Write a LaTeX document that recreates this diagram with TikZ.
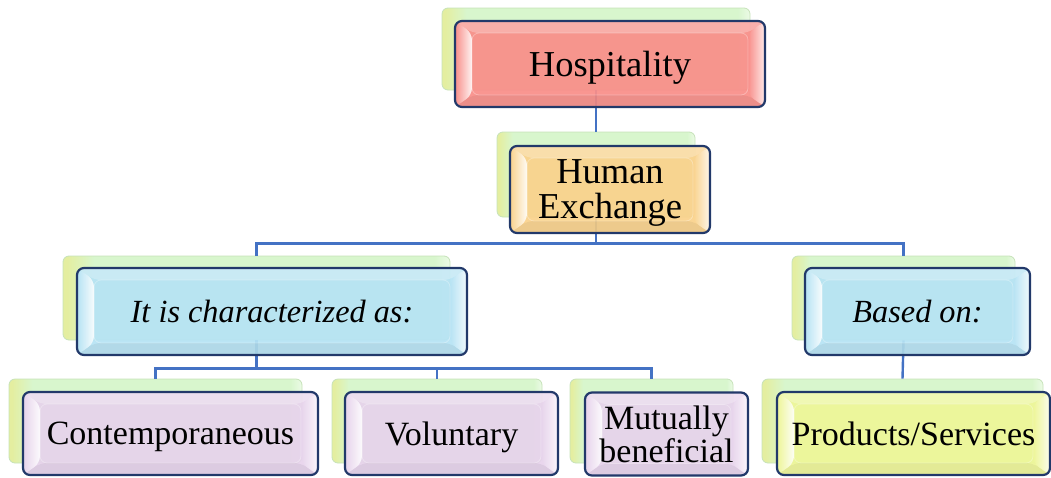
\documentclass[tikz,border=0pt]{standalone}
\usepackage{fontspec}
\setmainfont{Liberation Serif}
\usetikzlibrary{calc}

\definecolor{edgeblue}{HTML}{22396A}
\definecolor{linkblue}{HTML}{4472C4}
\definecolor{backgreen}{HTML}{D8F6CD}
\definecolor{backyellow}{HTML}{E4EEA0}
\definecolor{backedge}{HTML}{C6E2B9}
\definecolor{hospred}{HTML}{F98E89}
\definecolor{exorange}{HTML}{FAD28C}
\definecolor{skyblue}{HTML}{B6E3F4}
\definecolor{lilac}{HTML}{E7D3EC}
\definecolor{lime}{HTML}{EEF698}

% green card shading: yellowish at the left edge, green elsewhere
\pgfdeclarehorizontalshading{backshade}{100bp}{color(0bp)=(backyellow); color(25.5bp)=(backyellow); color(29bp)=(backgreen); color(73bp)=(backgreen); color(75bp)=(white!50!backgreen); color(100bp)=(white!50!backgreen)}

% bevelled facets drawn inside a front box
\newcommand\bevelfacets[1]{%
  \path (path picture bounding box.north west) coordinate (o1)
        (path picture bounding box.north east) coordinate (o2)
        (path picture bounding box.south east) coordinate (o3)
        (path picture bounding box.south west) coordinate (o4);
  \coordinate (i1) at ($(o1)+(17,12)$);
  \coordinate (i2) at ($(o2)+(-17,12)$);
  \coordinate (i3) at ($(o3)+(-17,-12)$);
  \coordinate (i4) at ($(o4)+(17,-12)$);
  \fill[white, opacity=.25] (o1) -- (o2) -- (i2) -- (i1) -- cycle;
  \fill[black, opacity=.05] (o4) -- (o3) -- (i3) -- (i4) -- cycle;
  \shade[left color=#1, right color=white, opacity=.9] (o1) -- (i1) -- (i4) -- (o4) -- cycle;
  \shade[left color=#1, right color=white, opacity=.8] (i2) -- (o2) -- (o3) -- (i3) -- cycle;
  \draw[white, opacity=.3, line width=.8pt] (i1) -- (i2) -- (i3) -- (i4) -- cycle;
}

\tikzset{
  backbox/.style={rectangle, rounded corners=6pt, draw=backedge, line width=.8pt,
    shading=backshade},
  frontbox/.style={rectangle, rounded corners=7pt, draw=edgeblue, line width=2.2pt,
    fill=#1, fill opacity=.93, text opacity=1, inner sep=0pt, align=center,
    text depth=0pt, path picture={\bevelfacets{#1}}},
  bigtext/.style={font=\fontsize{36.5}{35}\selectfont},
  midtext/.style={font=\fontsize{32.3}{34}\selectfont\itshape},
  leaftext/.style={font=\fontsize{34}{33.5}\selectfont},
  link/.style={draw=linkblue, line width=2.4pt},
}

\begin{document}
\begin{tikzpicture}[x=1pt, y=-1pt]
\useasboundingbox (0,0) rectangle (1051,477);

% back cards
\node[backbox, minimum width=308pt, minimum height=82pt] (hospB) at (596,49) {};
\node[backbox, minimum width=198pt, minimum height=85pt] (heB) at (596,174.5) {};
\node[backbox, minimum width=387pt, minimum height=84pt] (charB) at (256.5,298) {};
\node[backbox, minimum width=223pt, minimum height=84pt] (baseB) at (903.5,298) {};
\node[backbox, minimum width=293pt, minimum height=84pt] (conB) at (155.5,421) {};
\node[backbox, minimum width=210pt, minimum height=84pt] (volB) at (437,421) {};
\node[backbox, minimum width=163pt, minimum height=84pt] (mutB) at (651.5,421) {};
\node[backbox, minimum width=281pt, minimum height=84pt] (prodB) at (902.5,421) {};

% connectors
\draw[link] (hospB.south) -- (heB.north);
\draw[link] (heB.south) -- ($(heB.south)+(0,26)$) coordinate (bus1);
\draw[link] (bus1) -| (charB.north);
\draw[link] (bus1) -| (baseB.north);
\draw[link] (charB.south) -- ($(charB.south)+(0,28)$) coordinate (bus2);
\draw[link] (bus2) -| (conB.north);
\draw[link] (bus2) -| (volB.north);
\draw[link] (bus2) -| (mutB.north);
\draw[link] (baseB.south) -- (prodB.north);

% front cards
\node[frontbox=hospred, bigtext, minimum width=310pt, minimum height=86pt] (hosp) at (610,64) {Hospitality};
\node[frontbox=exorange, bigtext, minimum width=200pt, minimum height=87pt] (he) at (610,189.5) {Human\\Exchange};
\node[frontbox=skyblue, midtext, minimum width=390pt, minimum height=87pt] (char) at (272,311.5) {It is characterized as:};
\node[frontbox=skyblue, midtext, minimum width=225pt, minimum height=87pt] (base) at (917.5,311.5) {Based on:};
\node[frontbox=lilac, leaftext, minimum width=295pt, minimum height=83pt] (con) at (170.5,433.5) {Contemporaneous};
\node[frontbox=lilac, leaftext, minimum width=213pt, minimum height=83pt] (vol) at (451.5,433.5) {Voluntary};
\node[frontbox=lilac, leaftext, minimum width=163pt, minimum height=83pt] (mut) at (666.5,434) {Mutually\\beneficial};
\node[frontbox=lime, leaftext, minimum width=273pt, minimum height=83pt] (prod) at (913.5,433.5) {Products/Services};
\end{tikzpicture}
\end{document}
